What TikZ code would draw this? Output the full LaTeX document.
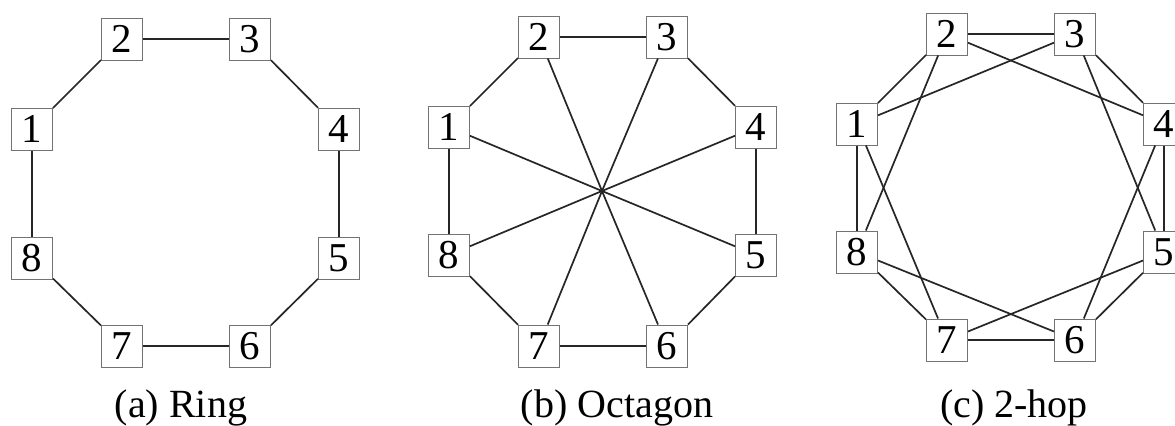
\documentclass[tikz,border=0pt]{standalone}
\usepackage{fontspec}
\setmainfont{Liberation Serif}
\begin{document}
\begin{tikzpicture}[x=0.5pt,y=-0.5pt,
  nodebox/.style={draw=black!55,line width=0.5pt,fill=white,minimum width=20.5pt,minimum height=21pt,inner sep=0pt,font=\fontsize{20.5}{20}\selectfont},
  link/.style={draw=black!85,line width=0.85pt},
  caption/.style={anchor=base,font=\fontsize{20}{20}\selectfont,inner sep=0pt}]
\useasboundingbox (0,0) rectangle (1175,425);
% ---------- (a) Ring
\node[nodebox] (a1) at (32,129) {1};
\node[nodebox] (a2) at (122,39) {2};
\node[nodebox] (a3) at (250,39) {3};
\node[nodebox] (a4) at (339,129) {4};
\node[nodebox] (a5) at (339,258) {5};
\node[nodebox] (a6) at (250,346) {6};
\node[nodebox] (a7) at (122,346) {7};
\node[nodebox] (a8) at (32,258) {8};
\foreach \i/\j in {1/2,2/3,3/4,4/5,5/6,6/7,7/8,8/1}
  \draw[link] (a\i) -- (a\j);
\node[caption] (capa) at (181,417) {(a) Ring};
% ---------- (b) Octagon
\node[nodebox] (b1) at (449,127) {1};
\node[nodebox] (b2) at (539,37) {2};
\node[nodebox] (b3) at (667,37) {3};
\node[nodebox] (b4) at (756,127) {4};
\node[nodebox] (b5) at (756,255) {5};
\node[nodebox] (b6) at (667,346) {6};
\node[nodebox] (b7) at (539,346) {7};
\node[nodebox] (b8) at (449,255) {8};
\coordinate (hub) at (602,191);
\foreach \i/\j in {1/2,2/3,3/4,4/5,5/6,6/7,7/8,8/1}
  \draw[link] (b\i) -- (b\j);
\foreach \i in {1,...,8}
  \draw[link] (b\i) -- (hub);
\node[caption] (capb) at (617,417) {(b) Octagon};
% ---------- (c) 2-hop
\node[nodebox] (c1) at (857,124) {1};
\node[nodebox] (c2) at (947,34) {2};
\node[nodebox] (c3) at (1075,34) {3};
\node[nodebox] (c4) at (1164,124) {4};
\node[nodebox] (c5) at (1164,252) {5};
\node[nodebox] (c6) at (1075,340) {6};
\node[nodebox] (c7) at (947,340) {7};
\node[nodebox] (c8) at (857,252) {8};
\foreach \i/\j in {1/2,2/3,3/4,4/5,5/6,6/7,7/8,8/1,1/3,2/4,3/5,4/6,5/7,6/8,7/1,8/2}
  \draw[link] (c\i) -- (c\j);
\node[caption] (capc) at (1014,417) {(c) 2-hop};
\end{tikzpicture}
\end{document}
